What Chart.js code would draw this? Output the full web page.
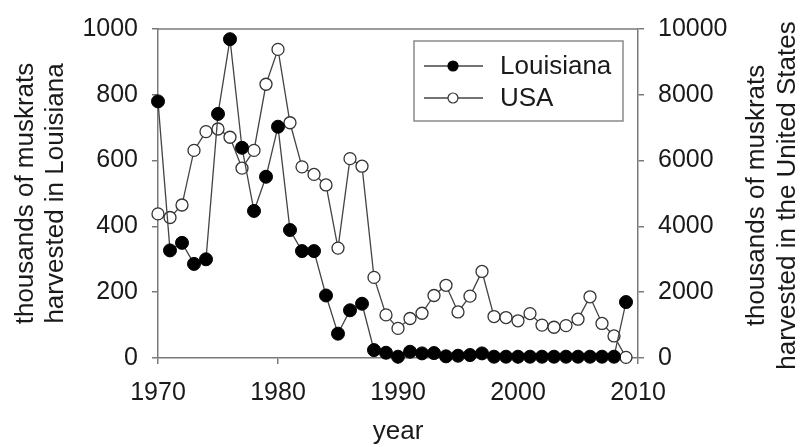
<!DOCTYPE html>
<html>
<head>
<meta charset="utf-8">
<script src="https://cdn.jsdelivr.net/npm/chart.js@4.4.1/dist/chart.umd.min.js"></script>
<style>
  html, body { margin: 0; padding: 0; background: #fff; }
  #wrap { width: 803px; height: 447px; }
</style>
</head>
<body>
<div id="wrap"><canvas id="chart" width="803" height="447"></canvas></div>
<script>
// years of harvest
const years = [1970, 1971, 1972, 1973, 1974, 1975, 1976, 1977, 1978, 1979,
  1980, 1981, 1982, 1983, 1984, 1985, 1986, 1987, 1988, 1989,
  1990, 1991, 1992, 1993, 1994, 1995, 1996, 1997, 1998, 1999,
  2000, 2001, 2002, 2003, 2004, 2005, 2006, 2007, 2008, 2009];

// thousands of muskrats, Louisiana (left axis)
const louisiana = [780, 327, 350, 286, 300, 742, 969, 639, 447, 551,
  703, 389, 325, 325, 190, 74, 145, 165, 24, 16,
  4, 19, 14, 15, 5, 7, 9, 14, 4, 4,
  4, 4, 4, 4, 4, 4, 4, 4, 4, 170];

// thousands of muskrats, USA (right axis)
const usa = [4380, 4270, 4650, 6310, 6880, 6960, 6710, 5770, 6310, 8320,
  9380, 7150, 5810, 5580, 5260, 3340, 6060, 5830, 2450, 1310,
  900, 1200, 1360, 1900, 2210, 1400, 1880, 2630, 1260, 1230,
  1130, 1350, 1000, 935, 985, 1180, 1860, 1050, 670, 20];

const leftTitle = ["thousands of muskrats", "harvested in Louisiana"];
const rightTitle = ["thousands of muskrats", "harvested in the United States"];
const xTitle = "year";

const FONT = "'Liberation Sans', Arial, sans-serif";
const axisColor = "#7a7a7a";
const lineColor = "#444";
const textColor = "#1a1a1a";

const toPoints = (vals) => vals.map((v, i) => ({ x: years[i], y: v }));
const plain = (v) => String(v);

/*********************** extra drawing: frame, right title, legend ***********************/
const extras = {
  id: "extras",
  afterDraw(chart) {
    const ctx = chart.ctx;
    const a = chart.chartArea;
    ctx.save();

    // top frame line
    ctx.strokeStyle = axisColor;
    ctx.lineWidth = 1.5;
    ctx.beginPath();
    ctx.moveTo(a.left, a.top);
    ctx.lineTo(a.right, a.top);
    ctx.stroke();

    // right axis title, read bottom to top like the left one
    ctx.fillStyle = textColor;
    ctx.font = "26px " + FONT;
    ctx.textAlign = "center";
    ctx.textBaseline = "middle";
    const cy = (a.top + a.bottom) / 2 + 2;
    const rx = chart.width - 46;
    rightTitle.forEach((t, i) => {
      ctx.save();
      ctx.translate(rx + i * 31, cy);
      ctx.rotate(-Math.PI / 2);
      ctx.fillText(t, 0, 0);
      ctx.restore();
    });

    // legend box
    const bx = a.right - 224, by = a.top + 12, bw = 209, bh = 80;
    ctx.fillStyle = "#fff";
    ctx.fillRect(bx, by, bw, bh);
    ctx.strokeStyle = "#8a8a8a";
    ctx.lineWidth = 1.5;
    ctx.strokeRect(bx, by, bw, bh);

    chart.data.datasets.forEach((ds, i) => {
      const y = by + 25 + i * 32;
      ctx.strokeStyle = ds.borderColor;
      ctx.lineWidth = 1.3;
      ctx.beginPath();
      ctx.moveTo(bx + 10, y);
      ctx.lineTo(bx + 69, y);
      ctx.stroke();
      ctx.beginPath();
      ctx.arc(bx + 39, y, 5, 0, Math.PI * 2);
      ctx.fillStyle = ds.pointBackgroundColor;
      ctx.fill();
      ctx.strokeStyle = ds.pointBorderColor;
      ctx.lineWidth = 1.2;
      ctx.stroke();
      ctx.fillStyle = textColor;
      ctx.font = "26px " + FONT;
      ctx.textAlign = "left";
      ctx.textBaseline = "middle";
      ctx.fillText(ds.label, bx + 86, y + 1);
    });

    ctx.restore();
  },
};

const ctx = document.getElementById("chart").getContext("2d");
const chart = new Chart(ctx, {
  type: "line",
  data: {
    datasets: [
      {
        label: "Louisiana",
        data: toPoints(louisiana),
        yAxisID: "y",
        borderColor: lineColor,
        borderWidth: 1.3,
        pointRadius: 6.5,
        pointBackgroundColor: "#000",
        pointBorderColor: "#000",
        pointBorderWidth: 1,
        tension: 0,
        clip: false,
      },
      {
        label: "USA",
        data: toPoints(usa),
        yAxisID: "y1",
        borderColor: lineColor,
        borderWidth: 1.3,
        pointRadius: 6,
        pointBackgroundColor: "#fff",
        pointBorderColor: "#333",
        pointBorderWidth: 1.3,
        tension: 0,
        clip: false,
      },
    ],
  },
  options: {
    responsive: false,
    animation: false,
    devicePixelRatio: 1,
    layout: { padding: { top: 23, left: 0, right: 0, bottom: 0 } },
    plugins: {
      legend: { display: false },
      tooltip: { enabled: false },
    },
    scales: {
      x: {
        type: "linear",
        min: 1970,
        max: 2010,
        afterFit: (s) => { s.height = 89; },
        ticks: {
          stepSize: 10,
          color: textColor,
          font: { family: FONT, size: 25 },
          padding: 14,
          maxRotation: 0,
          callback: plain,
        },
        grid: { drawOnChartArea: false, drawTicks: true, tickLength: 6, color: axisColor, lineWidth: 1.5 },
        border: { display: true, color: axisColor, width: 1.5 },
        title: {
          display: true,
          text: xTitle,
          color: textColor,
          font: { family: FONT, size: 26 },
          padding: { top: 0, bottom: 0 },
        },
      },
      y: {
        position: "left",
        min: 0,
        max: 1000,
        afterFit: (s) => { s.width = 158; },
        ticks: {
          stepSize: 200,
          color: textColor,
          font: { family: FONT, size: 25 },
          padding: 14,
          callback: plain,
        },
        grid: { drawOnChartArea: false, drawTicks: true, tickLength: 6, color: axisColor, lineWidth: 1.5 },
        border: { display: true, color: axisColor, width: 1.5 },
        title: {
          display: true,
          text: leftTitle,
          color: textColor,
          font: { family: FONT, size: 26, lineHeight: 1.18 },
          padding: { top: 10, bottom: 0 },
        },
      },
      y1: {
        position: "right",
        min: 0,
        max: 10000,
        afterFit: (s) => { s.width = 165; },
        ticks: {
          stepSize: 2000,
          color: textColor,
          font: { family: FONT, size: 25 },
          padding: 14,
          callback: plain,
        },
        grid: { drawOnChartArea: false, drawTicks: true, tickLength: 6, color: axisColor, lineWidth: 1.5 },
        border: { display: true, color: axisColor, width: 1.5 },
      },
    },
  },
  plugins: [extras],
});
</script>
</body>
</html>
